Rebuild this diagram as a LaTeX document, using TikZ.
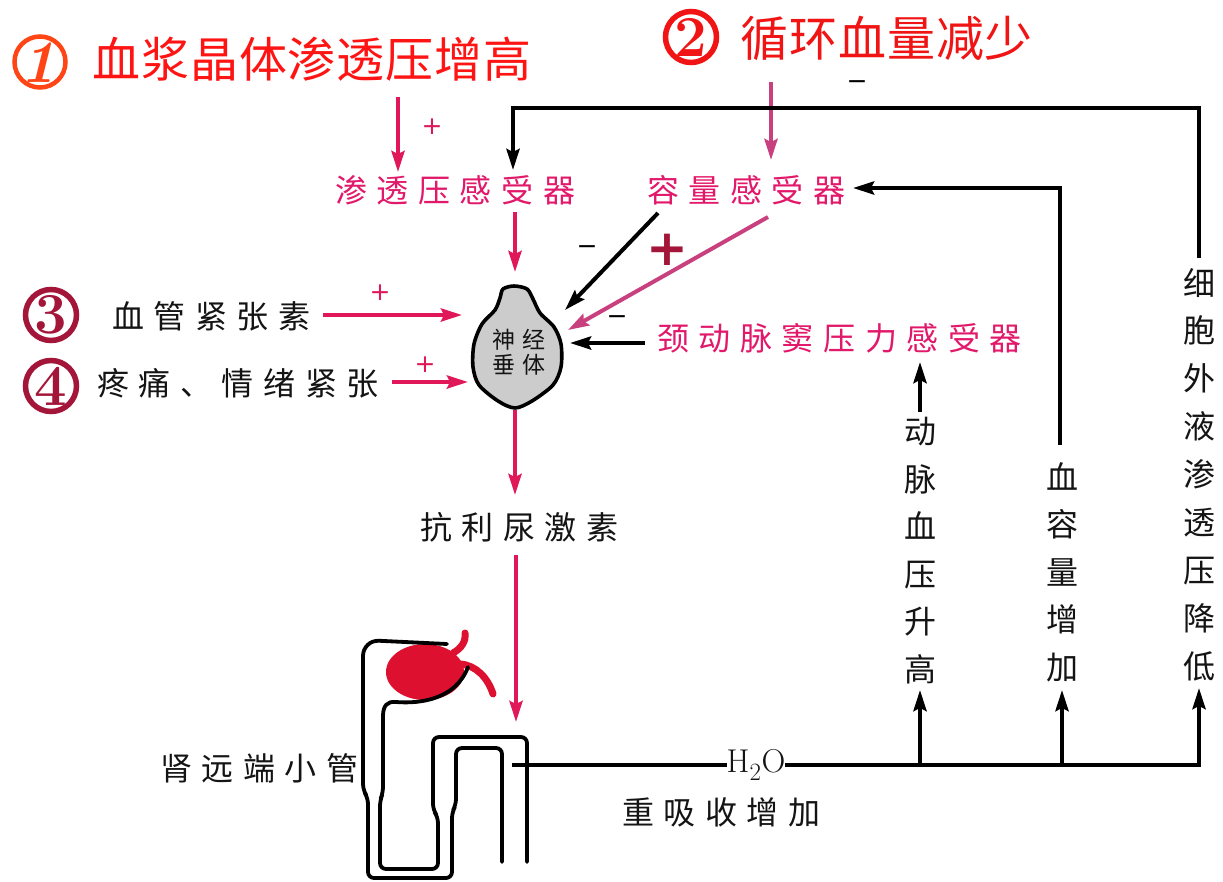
\documentclass[tikz,border=0pt]{standalone}
\usepackage{fontspec}
\newfontfamily\cjktitle[LetterSpace=2]{Noto Sans CJK SC}
\newfontfamily\cjklab[LetterSpace=30]{Noto Sans CJK SC}
\newfontfamily\cjkv{Noto Sans CJK SC}
\newfontfamily\symfont{DejaVu Sans}
\usetikzlibrary{arrows.meta}

\definecolor{titlered}{HTML}{FF1414}
\definecolor{orangeA}{HTML}{FF4516}
\definecolor{redB}{HTML}{F01414}
\definecolor{wine}{HTML}{A3163A}
\definecolor{pinkT}{HTML}{E2186A}
\definecolor{pinkA}{HTML}{E0185A}
\definecolor{mag}{HTML}{C9407F}
\definecolor{blobred}{HTML}{DD1030}
\definecolor{ink}{HTML}{141414}

\begin{document}
\begin{tikzpicture}[x=1pt,y=-1pt,
  conn/.style={line width=4pt,line join=miter},
  arr/.style={conn,-{Stealth[length=21pt,width=13pt,inset=3pt]}},
  title/.style={inner sep=0pt,anchor=west,font={\cjktitle\fontsize{48}{48}\selectfont}},
  lab/.style={inner sep=0pt,anchor=west,font={\cjklab\fontsize{32}{32}\selectfont}},
  vlab/.style={inner sep=0pt,align=center,text=ink,font={\cjkv\fontsize{32}{47.5}\selectfont}},
  numring/.style={circle,inner sep=0pt,minimum size=51pt,line width=5.5pt,
    font={\fontsize{58}{58}\selectfont\bfseries}},
  sign/.style={inner sep=0pt,font={\symfont\fontsize{25}{25}\selectfont}},
  tube/.style={line width=3.8pt,line cap=round},
  vessel/.style={draw=blobred,line width=7pt,line cap=round}
]
\useasboundingbox (0,0) rectangle (1223,881);
\fill[white] (0,0) rectangle (1223,881);

% ---------- headline causes ----------
\node[numring,draw=orangeA,line width=4.5pt] (n1) at (40,62) {};
\node[inner sep=0pt,text=orangeA,font={\fontsize{60}{60}\selectfont\bfseries\itshape}] (d1) at (38,63) {1};
\node[title,text=titlered] (t1) at (92,59) {血浆晶体渗透压增高};
\node[numring,draw=redB,text=redB] (n2) at (691,37) {2};
\node[title,text=redB] (t2) at (740,38) {循环血量减少};

% ---------- receptors ----------
\node[lab,text=pinkT] (osm) at (335,190) {渗透压感受器};
\node[lab,text=pinkT] (vol) at (647,190) {容量感受器};
\node[lab,text=pinkT] (car) at (657,338) {颈动脉窦压力感受器};

% ---------- other stimuli ----------
\node[numring,draw=wine,text=wine] (n3) at (51,315) {3};
\node[lab,text=ink] (ang) at (112,316) {血管紧张素};
\node[numring,draw=wine,text=wine] (n4) at (51,386) {4};
\node[lab,text=ink] (pain) at (97,383) {疼痛、情绪紧张};

% ---------- neurohypophysis ----------
\filldraw[fill=black!20,draw=black,line width=3.6pt]
  plot[smooth cycle,tension=0.5] coordinates {
    (514,286) (527,289) (533,299) (540,313) (554,327) (561,344) (561,367)
    (553,385) (532,401) (515,408) (498,401) (479,385) (473,367) (474,344)
    (482,324) (495,310) (500,298) (503,289)};
\node[inner sep=0pt,align=center,text=ink,
  font={\cjklab\fontsize{23}{25.5}\selectfont}] (pit) at (519,352) {神经\\垂体};

% ---------- hormone and kidney ----------
\node[lab,text=ink] (adh) at (420,527) {抗利尿激素};
\node[lab,text=ink] (dct) at (160,768) {肾远端小管};
\node[inner sep=0pt,text=ink,font={\fontsize{33}{33}\selectfont}] (h2o) at (756,765) {H$_2$O};
\node[lab,text=ink] (reab) at (622,812) {重吸收增加};

% ---------- effects ----------
\node[vlab] (bp) at (920,550.5) {动\\脉\\血\\压\\升\\高};
\node[vlab] (bv) at (1062,572) {血\\容\\量\\增\\加};
\node[vlab,font={\cjkv\fontsize{32}{47.9}\selectfont}] (ecf) at (1199,474.5)
  {细\\胞\\外\\液\\渗\\透\\压\\降\\低};

% ---------- connector end points ----------
\coordinate (a1s) at (398,97);   \coordinate (a1e) at (398,172);
\coordinate (a2s) at (771,82);   \coordinate (a2e) at (771,160);
\coordinate (osmS) at (515,212); \coordinate (pitN) at (515,272);
\coordinate (angE) at (323,315); \coordinate (pitW1) at (462,315);
\coordinate (painE) at (392,382);\coordinate (pitW2) at (468,382);
\coordinate (volA) at (658,213); \coordinate (pitE1) at (565,310);
\coordinate (volB) at (768,217); \coordinate (pitE2) at (568,330);
\coordinate (carW) at (645,343); \coordinate (pitE3) at (570,343);
\coordinate (pitS) at (515,410); \coordinate (adhN) at (515,495);
\coordinate (adhS) at (516,555); \coordinate (tubN) at (516,722);
\coordinate (tubIn) at (512,765);
\coordinate (bpB) at (920,765);  \coordinate (bpT) at (920,690);
\coordinate (bvB) at (1062,765); \coordinate (bvT) at (1062,690);
\coordinate (ecfB) at (1199,765);\coordinate (ecfT) at (1199,688);
\coordinate (bpU) at (920,412);  \coordinate (carS) at (920,362);
\coordinate (bvU) at (1060,445); \coordinate (bvC) at (1060,188); \coordinate (volE) at (853,188);
\coordinate (ecfU) at (1199,258);\coordinate (ecfC) at (1199,108);
\coordinate (osmC) at (513,108); \coordinate (osmN) at (513,170);

% ---------- stimulus arrows ----------
\draw[arr,pinkA] (a1s) -- (a1e);
\node[sign,text=pinkA] (p1) at (432,127) {+};
\draw[arr,mag] (a2s) -- (a2e);
\draw[arr,pinkA] (osmS) -- (pitN);
\draw[arr,pinkA] (angE) -- (pitW1);
\node[sign,text=pinkA] (p3) at (380,293) {+};
\draw[arr,pinkA] (painE) -- (pitW2);
\node[sign,text=pinkA] (p4) at (425,365) {+};
\draw[arr,black] (volA) -- (pitE1);
\node[sign] (m1) at (587,250) {−};
\draw[arr,mag] (volB) -- (pitE2);
\node[inner sep=0pt,text=wine,font={\symfont\bfseries\fontsize{50}{50}\selectfont}] (p2) at (667,250) {+};
\node[sign] (m2) at (617,320) {−};
\draw[arr,black] (carW) -- (pitE3);

% ---------- hormone pathway ----------
\draw[arr,pinkA] (pitS) -- (adhN);
\draw[arr,pinkA] (adhS) -- (tubN);

% ---------- kidney tubule ----------
\fill[blobred] (425,672) ellipse [x radius=39, y radius=28];
\draw[vessel] (453,653) .. controls (462,648) and (466,641) .. (465,633);
\draw[vessel] (460,664) .. controls (476,665) and (488,678) .. (493,694);
\draw[tube] (447,644) [rounded corners=16] -- (363,640) -- (363,700)
  [rounded corners=6] -- (363,790) -- (368,798) -- (368,878) -- (452,878)
  -- (452,812) -- (456,805) -- (456,748) -- (502,748) -- (502,862);
\draw[tube] (468,667) .. controls (456,699) and (421,704) .. (396,702)
  .. controls (387,701) and (383,706) .. (383,716)
  [rounded corners=6] -- (383,793) -- (380,800) -- (380,869) -- (438,869)
  -- (438,817) -- (433,810) -- (433,737) -- (527,737) -- (527,862);

% ---------- feedback from water reabsorption ----------
\draw[conn] (tubIn) -- (h2o.west);
\draw[arr] (h2o.east) -- (ecfB) -- (ecfT);
\draw[arr] (bpB) -- (bpT);
\draw[arr] (bvB) -- (bvT);
\draw[arr] (bpU) -- (carS);
\draw[arr] (bvU) -- (bvC) -- (volE);
\draw[arr] (ecfU) -- (ecfC) -- (osmC) -- (osmN);
\node[sign] (m3) at (857,85) {−};
\end{tikzpicture}
\end{document}
